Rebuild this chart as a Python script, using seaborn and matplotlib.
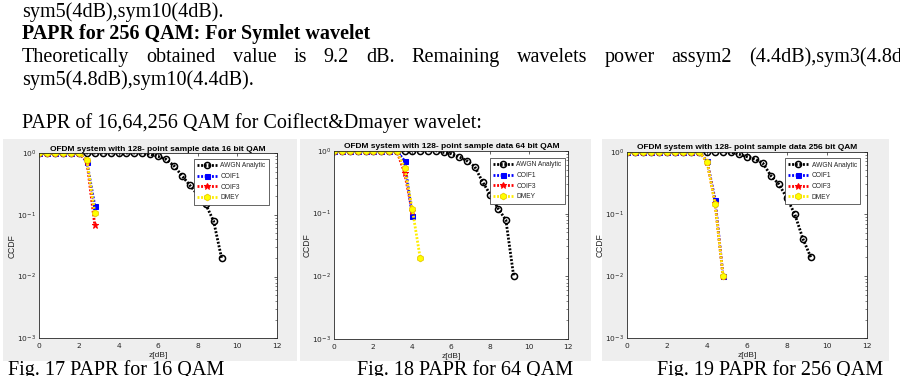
import matplotlib
matplotlib.use("Agg")
import matplotlib.pyplot as plt
import seaborn as sns
from matplotlib.patches import Rectangle
from matplotlib.ticker import LogLocator, NullFormatter

# ---------------- data ----------------
awgn_x = [0.0, 0.4, 0.8, 1.2, 1.6, 2.0, 2.4, 2.8, 3.2, 3.6, 4.0, 4.4,
          4.8, 5.2, 5.6, 6.0, 6.4, 6.8, 7.2, 7.6, 8.0, 8.4, 8.8, 9.2]
awgn_16 = [1, 1, 1, 1, 1, 1, 1, 1, 1, 1, 1, 1, 1, 1,
           0.95, 0.88, 0.79, 0.62, 0.43, 0.30, 0.21, 0.148, 0.079, 0.02]
awgn_64 = [1, 1, 1, 1, 1, 1, 1, 1, 1, 1, 1, 1, 1, 1,
           0.94, 0.89, 0.80, 0.69, 0.56, 0.32, 0.20, 0.12, 0.079, 0.01]
awgn_256 = [1, 1, 1, 1, 1, 1, 1, 1, 1, 1, 1, 1, 1,
            0.98, 0.91, 0.83, 0.76, 0.65, 0.41, 0.30, 0.18, 0.098, 0.04, 0.02]

x16 = [0.0, 0.4, 0.8, 1.2, 1.6, 2.0, 2.4, 2.8]
coif1_16 = [1, 1, 1, 1, 1, 1, 0.72, 0.14]
coif3_16 = [1, 1, 1, 1, 1, 1, 0.75, 0.068]
dmey_16 = [1, 1, 1, 1, 1, 1, 0.77, 0.108]

x64 = [0.0, 0.4, 0.8, 1.2, 1.6, 2.0, 2.4, 2.8, 3.2, 3.6, 4.0]
x64_dmey = [0.0, 0.4, 0.8, 1.2, 1.6, 2.0, 2.4, 2.8, 3.2, 3.6, 4.0, 4.4]
coif1_64 = [1, 1, 1, 1, 1, 1, 1, 1, 1, 0.69, 0.091]
coif3_64 = [1, 1, 1, 1, 1, 1, 1, 1, 1, 0.45, 0.108]
dmey_64 = [1, 1, 1, 1, 1, 1, 1, 1, 1, 0.54, 0.118, 0.02]

x256 = [0.0, 0.4, 0.8, 1.2, 1.6, 2.0, 2.4, 2.8, 3.2, 3.6, 4.0, 4.4, 4.8]
coif1_256 = [1, 1, 1, 1, 1, 1, 1, 1, 1, 1, 0.70, 0.17, 0.01]
coif3_256 = [1, 1, 1, 1, 1, 1, 1, 1, 1, 1, 0.69, 0.15, 0.01]
dmey_256 = [1, 1, 1, 1, 1, 1, 1, 1, 1, 1, 0.69, 0.145, 0.01]

series_names = ["AWGN Analytic", "COIF1", "COIF3", "DMEY"]
titles = ["OFDM system with 128- point sample data 16 bit QAM",
          "OFDM system with 128- point sample data 64 bit QAM",
          "OFDM system with 128- point sample data 256 bit QAM"]
captions = ["Fig. 17 PAPR for 16 QAM", "Fig. 18 PAPR for 64 QAM",
            "Fig. 19 PAPR for 256 QAM"]
x_ticks = [0, 2, 4, 6, 8, 10, 12]

body_lines = ["sym5(4dB),sym10(4dB).",
              "PAPR for 256 QAM: For Symlet wavelet",
              None,
              "sym5(4.8dB),sym10(4.4dB).",
              "PAPR of 16,64,256 QAM for Coiflect&Dmayer wavelet:"]
line3_words = ["Theoretically", "obtained", "value", "is", "9.2", "dB.",
               "Remaining", "wavelets", "power", "assym2",
               "(4.4dB),sym3(4.8dB),"]

# ---------------- figure ----------------
sns.set_theme(style="white")
plt.rcParams["font.family"] = ["DejaVu Sans"]
W, H = 900, 376
fig = plt.figure(figsize=(W / 100, H / 100), dpi=100)
fig.patch.set_facecolor("white")

SERIF = ["Liberation Serif", "DejaVu Serif"]
SANS = ["Liberation Sans", "DejaVu Sans"]
BODY_FS = 14.5


def px(x, y):
    return x / W, 1 - y / H


# gray MATLAB figure backgrounds
for (x0, y0, x1, y1) in [(3, 139, 297, 361), (300, 139, 591, 361), (602, 139, 889, 361)]:
    fig.patches.append(Rectangle(px(x0, y1), (x1 - x0) / W, (y1 - y0) / H,
                                 transform=fig.transFigure, facecolor="#eeeeee",
                                 edgecolor="none", zorder=-5))

# body text
baselines = [17, 39, 62, 85, 128]
for txt, yb in zip(body_lines, baselines):
    if txt is None:
        continue
    bold = txt.startswith("PAPR for 256")
    fig.text(*px(22, yb), txt, family=SERIF, fontsize=BODY_FS,
             fontweight="bold" if bold else "normal", va="baseline", ha="left",
             color="black")

# justified line 3
fig.canvas.draw()
renderer = fig.canvas.get_renderer()


def text_width(s):
    t = fig.text(0, 0, s, family=SERIF, fontsize=BODY_FS)
    w = t.get_window_extent(renderer).width
    t.remove()
    return w


widths = [text_width(w) for w in line3_words]
partial = text_width("(4.4dB),sym3(4.8d")
gap = (902 - 22 - sum(widths[:-1]) - partial) / (len(line3_words) - 1)
xcur = 22
for w, wd in zip(line3_words, widths):
    fig.text(*px(xcur, baselines[2]), w, family=SERIF, fontsize=BODY_FS,
             va="baseline", ha="left", color="black")
    xcur += wd + gap

# captions
for cap, xc in zip(captions, [8, 357, 657]):
    fig.text(*px(xc, 375), cap, family=SERIF, fontsize=BODY_FS, va="baseline",
             ha="left", color="black")

# axes
axes_px = [(39.3, 153, 277, 338.3), (334.3, 150.7, 568.3, 339.3), (627.3, 151.7, 866.7, 338.3)]
legend_anchor = [(0.966, 0.968), (0.985, 0.962), (0.972, 0.965)]
panels = [
    (awgn_16, x16, coif1_16, x16, coif3_16, x16, dmey_16),
    (awgn_64, x64, coif1_64, x64, coif3_64, x64_dmey, dmey_64),
    (awgn_256, x256, coif1_256, x256, coif3_256, x256, dmey_256),
]

AX_COL = "#262626"
DOTS = (0.7, 0.6)
for i, (l, t, r, b) in enumerate(axes_px):
    ax = fig.add_axes([l / W, 1 - b / H, (r - l) / W, (b - t) / H])
    ax.set_zorder(2)
    ax.set_facecolor("white")
    awgn, xc1, c1, xc3, c3, xdm, dm = panels[i]
    lw = 2.0
    sns.lineplot(x=awgn_x, y=awgn, ax=ax, color="black", lw=lw, dashes=DOTS,
                 marker="o", markersize=4.4, markerfacecolor="none",
                 markeredgecolor="black", markeredgewidth=1.1,
                 label=series_names[0], sort=False)
    sns.lineplot(x=xc1, y=c1, ax=ax, color="#0000ff", lw=lw, dashes=DOTS,
                 marker="s", markersize=3.6, markerfacecolor="#0000ff",
                 markeredgecolor="#0000ff", label=series_names[1], sort=False)
    sns.lineplot(x=xc3, y=c3, ax=ax, color="#ff0000", lw=lw, dashes=DOTS,
                 marker="*", markersize=4.8, markerfacecolor="#ff0000",
                 markeredgecolor="#ff0000", label=series_names[2], sort=False)
    sns.lineplot(x=xdm, y=dm, ax=ax, color="#ffee00", lw=lw, dashes=DOTS,
                 marker="h", markersize=4.8, markerfacecolor="#ffff00",
                 markeredgecolor="#e8c800", markeredgewidth=0.6,
                 label=series_names[3], sort=False)
    ax.set_yscale("log")
    ax.set_xlim(0, 12)
    ax.set_ylim(1e-3, 1)
    ax.set_xticks(x_ticks)
    ax.set_xticklabels([str(v) for v in x_ticks])
    ax.yaxis.set_major_locator(LogLocator(base=10, numticks=10))
    ax.yaxis.set_minor_locator(LogLocator(base=10, subs=range(2, 10), numticks=20))
    ax.yaxis.set_minor_formatter(NullFormatter())
    ax.tick_params(which="both", direction="in", top=True, right=True,
                   colors=AX_COL, labelcolor=AX_COL, labelsize=5.4)
    ax.tick_params(axis="x", pad=3.2)
    ax.tick_params(axis="y", pad=2.2)
    ax.tick_params(which="major", length=2.2, width=0.5)
    ax.tick_params(which="minor", length=1.2, width=0.4)
    for s in ax.spines.values():
        s.set_color(AX_COL)
        s.set_linewidth(0.6)
    ax.set_xlabel("z[dB]", fontsize=6.0, color=AX_COL, labelpad=2.5, family=SANS)
    ax.set_ylabel("CCDF", fontsize=6.2, color=AX_COL, labelpad=0.8, family=SANS)
    ax.set_title(titles[i], fontsize=6.0, fontweight="bold", color="black",
                 pad=1.6, family=SANS)
    leg = ax.legend(loc="upper right", bbox_to_anchor=legend_anchor[i],
                    prop={"family": SANS, "size": 4.8}, frameon=True,
                    fancybox=False, framealpha=1, edgecolor=AX_COL,
                    handlelength=3.0, handletextpad=0.5, labelspacing=0.55,
                    borderpad=0.5, borderaxespad=0)
    leg.get_frame().set_linewidth(0.5)
    for txt in leg.get_texts():
        txt.set_color(AX_COL)

fig.savefig("out.png", dpi=100)
